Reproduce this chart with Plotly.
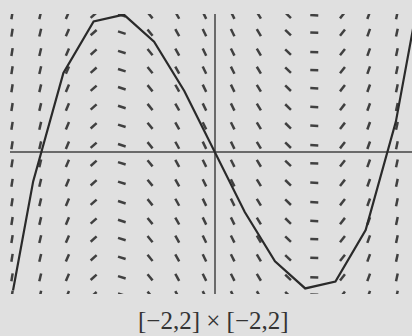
import numpy as np
import plotly.graph_objects as go

# Slope-field grid
col_x = [-2.01, -1.73, -1.46, -1.20, -0.92, -0.64, -0.37, -0.10,
         0.18, 0.44, 0.73, 0.99, 1.27, 1.53, 1.81]
col_slope = [9.1, 6.0, 3.4, 1.3, -0.46, -1.77, -2.6, -2.97,
             -2.9, -2.42, -1.4, -0.06, 1.84, 4.0, 6.8]
row_y = [1.96, 1.71, 1.43, 1.17, 0.91, 0.64, 0.37, 0.09,
         -0.17, -0.45, -0.73, -1.0, -1.26, -1.53, -1.81, -2.06]

# Solution curve (polyline vertices)
curve_x = [-2.0, -1.8, -1.5, -1.2, -0.9, -0.6, -0.3, 0.0,
           0.3, 0.6, 0.9, 1.2, 1.5, 1.8, 2.0]
curve_y = [-2.0, -0.43, 1.13, 1.87, 1.97, 1.58, 0.87, 0.0,
           -0.87, -1.58, -1.97, -1.87, -1.13, 0.43, 2.0]

caption = "[\u22122,2] \u00d7 [\u22122,2]"

W, H = 412, 336
ml, mr, mt, mb = 10, 0, 14, 42
x_range = [-2.03, 1.96]
y_range = [-2.05, 1.978]
sx = (W - ml - mr) / (x_range[1] - x_range[0])
sy = (H - mt - mb) / (y_range[1] - y_range[0])

seg_len = 8.0  # pixels
fx, fy = [], []
for x, m in zip(col_x, col_slope):
    mp = m * sy / sx
    n = np.hypot(1.0, mp)
    dxp = seg_len / 2 / n
    dyp = seg_len / 2 * mp / n
    for y in row_y:
        fx += [x - dxp / sx, x + dxp / sx, None]
        fy += [y - dyp / sy, y + dyp / sy, None]

fig = go.Figure()
fig.add_trace(go.Scatter(x=fx, y=fy, mode="lines",
                         line=dict(color="#404040", width=2.5),
                         hoverinfo="skip", showlegend=False))
fig.add_trace(go.Scatter(x=curve_x, y=curve_y, mode="lines",
                         line=dict(color="#2a2a2a", width=2.2),
                         hoverinfo="skip", showlegend=False))

bg = "#e0e0e0"
fig.update_layout(
    width=W, height=H,
    margin=dict(l=ml, r=mr, t=mt, b=mb),
    paper_bgcolor=bg, plot_bgcolor=bg,
    xaxis=dict(range=x_range, showgrid=False, showticklabels=False,
               ticks="", zeroline=True, zerolinecolor="#6a6a6a",
               zerolinewidth=2, showline=False, fixedrange=True),
    yaxis=dict(range=y_range, showgrid=False, showticklabels=False,
               ticks="", zeroline=True, zerolinecolor="#6a6a6a",
               zerolinewidth=2, showline=False, fixedrange=True),
    annotations=[dict(text=caption, xref="paper", yref="paper",
                      x=(213 - ml) / (W - ml - mr), y=-(320 - (H - mb)) / (H - mt - mb),
                      xanchor="center", yanchor="middle", showarrow=False,
                      font=dict(family="Liberation Serif", size=25, color="#333333"))],
)
fig.write_html("out.html", config={"displayModeBar": False, "staticPlot": True},
               post_script="document.body.style.margin='0';"
                           "document.body.style.background='#e0e0e0';")
